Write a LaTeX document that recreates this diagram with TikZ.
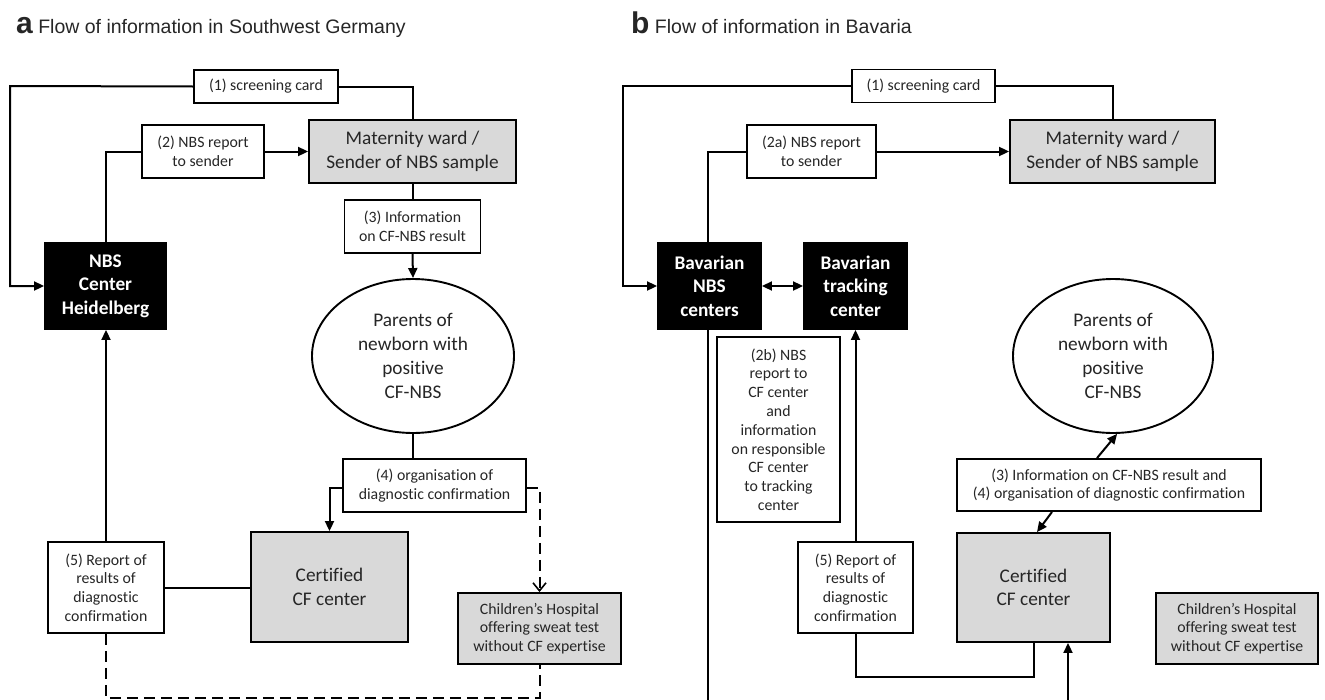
\documentclass[tikz,border=0pt]{standalone}
\usepackage{fontspec}
\setmainfont{Carlito}[Ligatures=NoCommon]
\newfontfamily\titlefont{Liberation Sans}
\usetikzlibrary{arrows.meta,shapes.geometric,calc}
\definecolor{boxgray}{HTML}{D9D9D9}
\definecolor{txt}{HTML}{262626}
\tikzset{
  lw/.style={line width=1.9pt},
  smallbox/.style={draw, lw, fill=white, text=txt, align=center, inner sep=0pt,
     font=\fontsize{15.8}{18.8}\selectfont},
  bigbox/.style={draw, lw, fill=boxgray, text=txt, align=center, inner sep=0pt,
     font=\fontsize{19.3}{23.5}\selectfont},
  graysmall/.style={draw, lw, fill=boxgray, text=txt, align=center, inner sep=0pt,
     font=\fontsize{15.8}{18.8}\selectfont},
  blackbox/.style={draw, lw, fill=black, text=white, align=center, inner sep=0pt,
     font=\fontsize{19.3}{23.5}\selectfont\bfseries},
  ellbox/.style={draw, lw, ellipse, fill=white, text=txt, align=center, inner sep=0pt,
     font=\fontsize{19.3}{24}\selectfont},
  conn/.style={line width=2pt, line join=miter},
  arr/.style={conn, -{Triangle[length=10pt,width=9pt]}},
  darr/.style={conn, {Triangle[length=10pt,width=9pt]}-{Triangle[length=10pt,width=9pt]}},
  dsh/.style={conn, dash pattern=on 11pt off 6pt},
  dsharr/.style={dsh, -{Straight Barb[length=8pt,width=13pt,line width=1.6pt]}},
  ttl/.style={anchor=base west, inner sep=0pt, text=txt, font=\titlefont\fontsize{19.5}{19.5}\selectfont},
}
\begin{document}
\begin{tikzpicture}[x=1pt,y=-1pt]
\useasboundingbox (0,0) rectangle (1325,699);
% ---------------- titles
\node[ttl] (ta) at (16,33) {{\fontsize{30}{30}\selectfont\bfseries a} Flow of information in Southwest Germany};
\node[ttl] (tb) at (631,33) {{\fontsize{30}{30}\selectfont\bfseries b} Flow of information in Bavaria};

% ================= panel a
\node[smallbox, minimum width=144pt, minimum height=33pt] (sca) at (266,86.5) {(1) screening card};
\node[bigbox, minimum width=207pt, minimum height=63pt] (mata) at (412.5,151.5) {Maternity ward /\\Sender of NBS sample};
\node[smallbox, minimum width=122pt, minimum height=53pt] (repa) at (203,151.5) {(2) NBS report\\to sender};
\node[smallbox, minimum width=136pt, minimum height=53pt] (infa) at (412.5,226.5) {(3) Information\\on CF-NBS result};
\node[blackbox, minimum width=121pt, minimum height=86pt] (nbsa) at (105.5,286) {NBS\\Center\\Heidelberg};
\node[ellbox, minimum width=202pt, minimum height=154pt] (cira) at (413,356) {Parents of\\newborn with\\positive\\CF-NBS};
\node[smallbox, minimum width=183pt, minimum height=53pt] (orga) at (434.5,485.5) {(4) organisation of\\diagnostic confirmation};
\node[bigbox, minimum width=157pt, minimum height=110pt] (cfa) at (329.5,587) {Certified\\CF center};
\node[smallbox, minimum width=116pt, minimum height=91pt] (rfa) at (106,587.5) {(5) Report of\\results of\\diagnostic\\confirmation};
\node[graysmall, minimum width=163pt, minimum height=71pt] (cha) at (539.5,628.5) {Children’s Hospital\\offering sweat test\\without CF expertise};
\coordinate (la1) at (10,86);
\coordinate (la2) at (10,286);
\coordinate (da) at (106,698);

\draw[arr] (sca.west) -- (la1) -- (la2) -- (nbsa.west);
\draw[conn] (sca.east) -| (mata.north);
\draw[conn] (nbsa.north) |- (repa.west);
\draw[arr] (repa.east) -- (mata.west);
\draw[conn] (mata.south) -- (mata.south |- infa.north);
\draw[arr] (infa.south) -- (cira.north);
\draw[conn] (cira.south) -- (cira.south |- orga.north);
\draw[arr] ([yshift=-2pt]orga.west) -| (cfa.north);
\draw[dsharr] ([yshift=-2pt]orga.east) -| (cha.north);
\draw[conn] (rfa.east) -- (rfa.east -| cfa.west);
\draw[arr] (rfa.north) -- (rfa.north |- nbsa.south);
\draw[dsh] (rfa.south) -- (da) -| (cha.south);

% ================= panel b
\node[smallbox, minimum width=143pt, minimum height=33pt] (scb) at (923.5,86) {(1) screening card};
\node[bigbox, minimum width=205pt, minimum height=63pt] (matb) at (1112.5,151.5) {Maternity ward /\\Sender of NBS sample};
\node[smallbox, minimum width=129pt, minimum height=53pt] (repb) at (811.5,151.5) {(2a) NBS report\\to sender};
\node[blackbox, minimum width=103pt, minimum height=86pt] (nbsb) at (709.5,286) {Bavarian\\NBS\\centers};
\node[blackbox, minimum width=103pt, minimum height=86pt] (trkb) at (855.5,286) {Bavarian\\tracking\\center};
\node[smallbox, minimum width=123pt, minimum height=185pt] (r2b) at (778.5,429.5) {(2b) NBS\\report to\\CF center\\and\\information\\on responsible\\CF center\\to tracking\\center};
\node[ellbox, minimum width=200pt, minimum height=154pt] (cirb) at (1113,356) {Parents of\\newborn with\\positive\\CF-NBS};
\node[smallbox, minimum width=304pt, minimum height=52pt] (infb) at (1109,485) {(3) Information on CF-NBS result and\\(4) organisation of diagnostic confirmation};
\node[bigbox, minimum width=153pt, minimum height=109pt] (cfb) at (1033.5,587.5) {Certified\\CF center};
\node[smallbox, minimum width=115pt, minimum height=91pt] (rfb) at (855.5,587.5) {(5) Report of\\results of\\diagnostic\\confirmation};
\node[graysmall, minimum width=162pt, minimum height=71pt] (chb) at (1237,628.5) {Children’s Hospital\\offering sweat test\\without CF expertise};
\coordinate (lb1) at (623,86);
\coordinate (lb2) at (623,286);
\coordinate (lb3) at (708,700);
\coordinate (lb4) at (1068,700);
\coordinate (lb5) at (855.5,677);

\draw[arr] (scb.west) -- (lb1) -- (lb2) -- (nbsb.west);
\draw[conn] (scb.east) -| (matb.north);
\draw[conn] ([xshift=-1.5pt]nbsb.north) |- (repb.west);
\draw[arr] (repb.east) -- (matb.west);
\draw[conn] ([xshift=-1.5pt]nbsb.south) -- (lb3);
\draw[darr] (nbsb.east) -- (trkb.west);
\draw[arr] (rfb.north) -- (trkb.south);
\draw[conn] (rfb.south) -- (lb5) -| (cfb.south);
\draw[arr] (lb4) -- (lb4 |- cfb.south);
\draw[arr] ([xshift=-12pt]infb.north) -- (cirb.-87);
\draw[arr] ([xshift=-57pt]infb.south) -- ([xshift=3.5pt]cfb.north);
\end{tikzpicture}
\end{document}
